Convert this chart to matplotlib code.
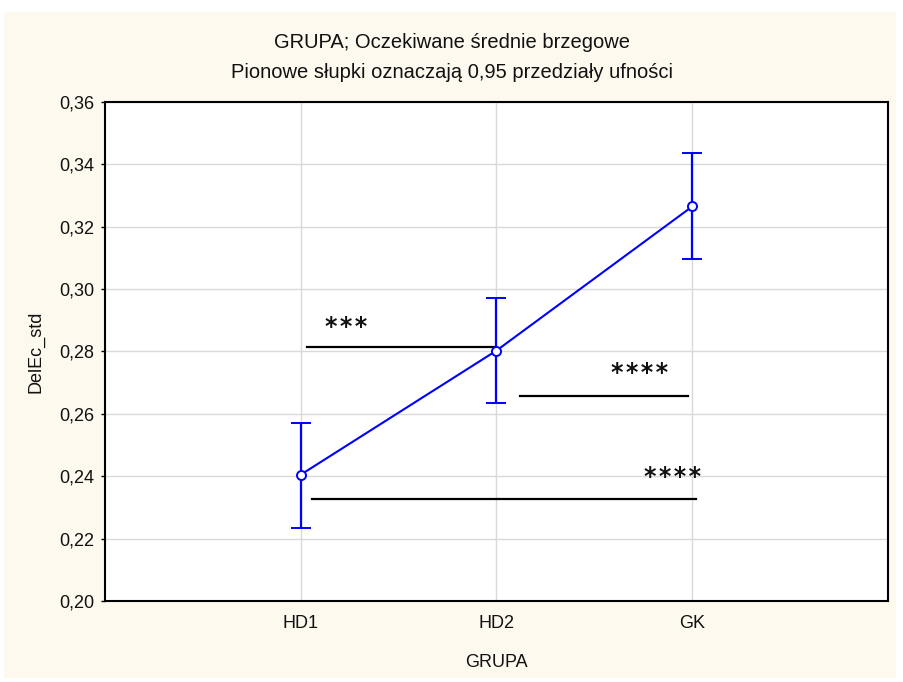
import matplotlib
matplotlib.use("Agg")
import matplotlib.pyplot as plt
from matplotlib.patches import Rectangle

plt.rcParams['font.family'] = ['Liberation Sans', 'DejaVu Sans']

categories = ["HD1", "HD2", "GK"]
means = [0.2405, 0.2803, 0.3265]
ci_low = [0.2234, 0.2634, 0.3098]
ci_high = [0.2570, 0.2970, 0.3435]

# significance annotations
sig_x_start = [0.03, 1.12, 0.06]
sig_x_end = [1.0, 1.98, 2.02]
sig_y = [0.2815, 0.2657, 0.2326]
sig_labels = ["***", "****", "****"]
sig_label_x = [0.23, 1.73, 1.90]
sig_label_y = [0.2880, 0.2730, 0.2398]

yticks = [0.20, 0.22, 0.24, 0.26, 0.28, 0.30, 0.32, 0.34, 0.36]

fig = plt.figure(figsize=(9.04, 6.82), dpi=100)
fig.patch.set_facecolor('white')
fig.patches.append(Rectangle((4/904, 1 - 678/682), 892/904, 666/682,
                             transform=fig.transFigure, facecolor='#fdf9ee',
                             edgecolor='none', zorder=-10))

ax = fig.add_axes([105/904, 1 - 601/682, 783/904, 499/682])
ax.set_facecolor('white')

x = list(range(len(categories)))
yerr_low = [m - l for m, l in zip(means, ci_low)]
yerr_high = [h - m for m, h in zip(means, ci_high)]
ax.errorbar(x, means, yerr=[yerr_low, yerr_high], color='#0000ff', lw=1.5,
            elinewidth=1.6, capsize=7.5, capthick=1.6, marker='o', markersize=6.5,
            markerfacecolor='white', markeredgecolor='#0000ff', markeredgewidth=1.4,
            zorder=5)

for xs, xe, yy in zip(sig_x_start, sig_x_end, sig_y):
    ax.plot([xs, xe], [yy, yy], color='black', lw=1.6, zorder=4)
for lab, lx, ly in zip(sig_labels, sig_label_x, sig_label_y):
    ax.text(lx, ly, "\u200a".join(lab), ha='center', va='center', fontsize=17,
            family='DejaVu Sans', fontweight='bold', color='#111111')

ax.set_xlim(-1, 3)
ax.set_ylim(0.20, 0.36)
ax.set_xticks(x)
ax.set_xticklabels(categories, fontsize=13)
ax.set_yticks(yticks)
ax.set_yticklabels([f"{v:.2f}".replace('.', ',') for v in yticks], fontsize=13)
ax.grid(True, color='#d9d9d9', lw=1)
ax.set_axisbelow(True)
for s in ax.spines.values():
    s.set_linewidth(1.5)
    s.set_color('black')
ax.tick_params(axis='both', length=3, width=1, direction='out', pad=5,
               colors='black', labelcolor='#111111')
ax.tick_params(axis='x', length=0, pad=10)

ax.set_xlabel("GRUPA", fontsize=13, labelpad=16, color='#111111')
ax.set_ylabel("DelEc_std", fontsize=13, labelpad=10, color='#111111')

fig.text(0.5, 1 - 42/682, "GRUPA; Oczekiwane średnie brzegowe", ha='center',
         va='center', fontsize=14.5, color='#111111')
fig.text(0.5, 1 - 72/682, "Pionowe słupki oznaczają 0,95 przedziały ufności",
         ha='center', va='center', fontsize=14.5, color='#111111')

fig.savefig("out.png", dpi=100, facecolor=fig.get_facecolor())
